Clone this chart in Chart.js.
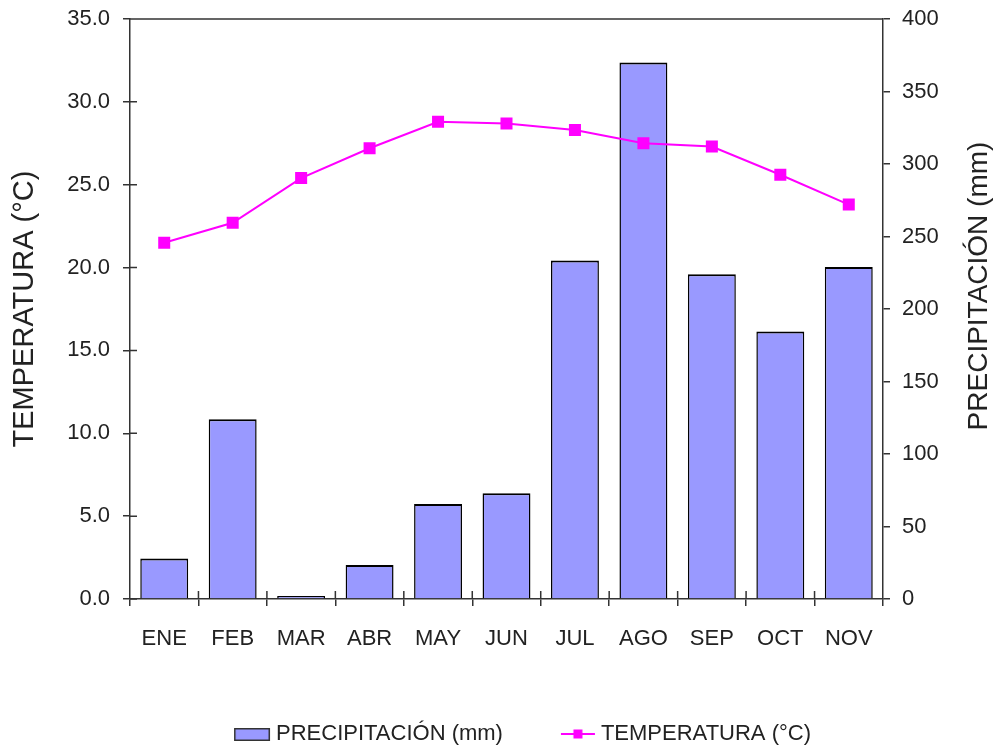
<!DOCTYPE html>
<html><head><meta charset="utf-8">
<script src="https://cdn.jsdelivr.net/npm/chart.js@4/dist/chart.umd.min.js"></script>
<style>html,body{margin:0;padding:0;background:#fff}#wrap{width:994px;height:751px;position:relative}</style>
</head><body><div id="wrap"><canvas id="c"></canvas></div>
<script>
const months = ['ENE','FEB','MAR','ABR','MAY','JUN','JUL','AGO','SEP','OCT','NOV'];
const precipitation = [28, 124, 2, 23.5, 65.5, 73, 233.5, 370, 224, 184.5, 229];
const temperature = [21.5, 22.7, 25.4, 27.2, 28.8, 28.7, 28.3, 27.5, 27.3, 25.6, 23.8];
const seriesNames = ['PRECIPITACIÓN (mm)', 'TEMPERATURA (°C)'];
const leftTitle = 'TEMPERATURA (°C)';
const rightTitle = 'PRECIPITACIÓN (mm)';

const REG = "'Liberation Sans',Arial,sans-serif";
const TXT = '#222';
const AX = '#333';
const BAR_FILL = '#9999FF';
const LINE_COL = '#FF00FF';

const BOXW = 82, EXT = 6;
function makeIcon(kind){
  const c = document.createElement('canvas');
  const W = BOXW + 2*EXT, H = 20;
  c.width = W; c.height = H;
  const g = c.getContext('2d');
  if (kind === 'bar') {
    g.fillStyle = BAR_FILL;
    g.fillRect(W-37, 4, 36, 13);
    g.strokeStyle = AX; g.lineWidth = 1.5;
    g.strokeRect(W-37+0.75, 4.75, 34.5, 11.5);
  } else {
    g.strokeStyle = LINE_COL; g.lineWidth = 2;
    g.beginPath(); g.moveTo(W-35, 10); g.lineTo(W-1, 10); g.stroke();
    g.fillStyle = LINE_COL;
    g.fillRect(W-18-4.5, 5.5, 9, 9);
  }
  return c;
}
const icons = [makeIcon('bar'), makeIcon('line')];

const framePlugin = {
  id: 'frame',
  afterDatasetsDraw(chart){
    const {ctx, chartArea: a, scales} = chart;
    ctx.save();
    ctx.strokeStyle = AX; ctx.lineWidth = 1.5;
    ctx.beginPath();
    ctx.moveTo(a.left, a.top); ctx.lineTo(a.right, a.top);
    scales.y.ticks.forEach((t, i) => {
      const py = scales.y.getPixelForTick(i);
      ctx.moveTo(a.left, py); ctx.lineTo(a.left + 7, py);
    });
    for (let i = 1; i < months.length; i++) {
      const px = scales.x.getPixelForValue(i - 0.5);
      ctx.moveTo(px, a.bottom); ctx.lineTo(px, a.bottom - 8);
    }
    ctx.stroke();
    // right axis title, reading bottom-to-top like the left one
    ctx.translate(979, 286);
    ctx.rotate(-Math.PI / 2);
    ctx.fillStyle = TXT;
    ctx.font = "28px " + REG;
    ctx.textAlign = 'center';
    ctx.textBaseline = 'middle';
    ctx.fillText(rightTitle, 0, 0);
    ctx.restore();
  }
};

new Chart(document.getElementById('c'), {
  type: 'bar',
  data: {
    labels: months,
    datasets: [
      {
        type: 'bar', label: seriesNames[0], data: precipitation, yAxisID: 'y2',
        backgroundColor: BAR_FILL, borderColor: '#000',
        borderWidth: {top: 2, left: 1.5, right: 1.5, bottom: 0},
        borderSkipped: 'bottom',
        barPercentage: 0.7, categoryPercentage: 1.0, order: 2
      },
      {
        type: 'line', label: seriesNames[1], data: temperature, yAxisID: 'y',
        borderColor: LINE_COL, backgroundColor: LINE_COL, borderWidth: 2,
        pointStyle: 'rect', pointRadius: 8.5, pointBackgroundColor: LINE_COL,
        pointBorderColor: LINE_COL, pointBorderWidth: 0, tension: 0, order: 1
      }
    ]
  },
  options: {
    responsive: true, maintainAspectRatio: false, animation: false,
    layout: {padding: {top: 19, left: 0, right: 0, bottom: -4}},
    plugins: {
      tooltip: {enabled: false},
      legend: {
        position: 'bottom',
        labels: {
          usePointStyle: true, pointStyleWidth: BOXW, padding: 5,
          color: TXT, font: {family: REG, size: 22},
          generateLabels(chart){
            return seriesNames.map((n, i) => ({
              text: n, pointStyle: icons[i], fontColor: TXT, datasetIndex: i,
              lineWidth: 0, strokeStyle: 'transparent', fillStyle: 'transparent'
            }));
          }
        }
      }
    },
    scales: {
      x: {
        grid: {display: true, offset: true, drawOnChartArea: false, tickLength: 7, color: AX, lineWidth: 1.5},
        border: {display: true, color: AX, width: 1.5},
        ticks: {color: TXT, font: {family: REG, size: 22}, padding: 20, maxRotation: 0},
        afterFit(s){ s.height = 119; s.paddingLeft = 0; s.paddingRight = 0; }
      },
      y: {
        position: 'left', min: 0, max: 35,
        grid: {display: true, drawOnChartArea: false, tickLength: 7, color: AX, lineWidth: 1.5},
        border: {display: true, color: AX, width: 1.5},
        ticks: {stepSize: 5, color: TXT, font: {family: REG, size: 22}, padding: 13,
          callback: v => Number(v).toFixed(1)},
        title: {display: true, text: leftTitle, color: TXT, font: {family: REG, size: 29}, padding: {top: 8, bottom: 0}},
        afterFit(s){ s.width = 130; s.paddingTop = 0; s.paddingBottom = 0; }
      },
      y2: {
        position: 'right', min: 0, max: 400,
        grid: {display: true, drawOnChartArea: false, tickLength: 7, color: AX, lineWidth: 1.5},
        border: {display: true, color: AX, width: 1.5},
        ticks: {stepSize: 50, color: TXT, font: {family: REG, size: 22}, padding: 12},
        afterFit(s){ s.width = 111; s.paddingTop = 0; s.paddingBottom = 0; }
      }
    }
  },
  plugins: [framePlugin]
});
</script>
</body></html>
